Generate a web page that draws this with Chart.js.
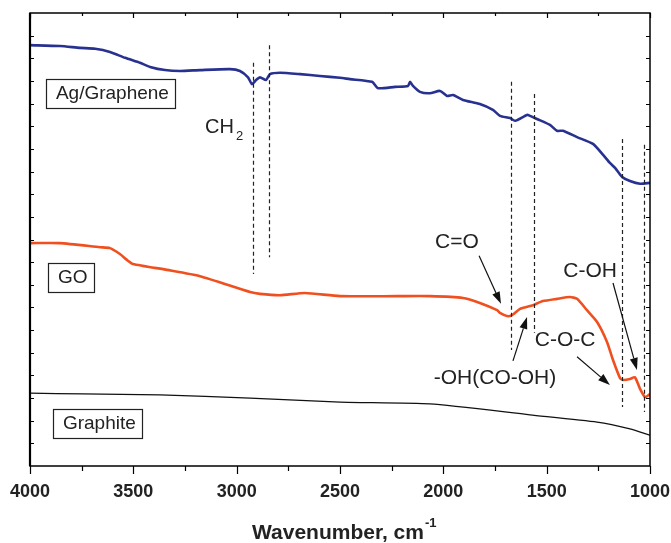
<!DOCTYPE html>
<html>
<head>
<meta charset="utf-8">
<script src="https://cdn.jsdelivr.net/npm/chart.js@4/dist/chart.umd.min.js"></script>
<style>
  html, body { margin: 0; padding: 0; background: #fff; }
  #wrap { width: 671px; height: 543px; }
</style>
</head>
<body>
<div id="wrap"><canvas id="ftirChart"></canvas></div>
<script>
// FTIR spectra, transmittance in arbitrary units (0-100)
const agWave = [4000, 3855, 3758, 3685, 3613, 3540, 3468, 3419, 3347, 3274, 3177, 3032, 2984, 2945, 2926, 2906, 2887, 2858, 2839, 2790, 2693, 2597, 2500, 2452, 2345, 2316, 2234, 2171, 2161, 2147, 2113, 2065, 2016, 1982, 1953, 1905, 1823, 1760, 1726, 1677, 1653, 1595, 1581, 1547, 1484, 1450, 1421, 1353, 1276, 1227, 1194, 1169, 1135, 1097, 1048, 1000];
const agValues = [92.9, 92.7, 92.3, 92.1, 91.4, 90.1, 89.0, 88.1, 87.4, 87.2, 87.4, 87.6, 87.2, 85.8, 84.3, 85.2, 85.8, 85.2, 86.5, 86.8, 86.5, 86.1, 85.7, 85.4, 84.8, 83.4, 83.7, 83.9, 84.8, 83.9, 82.6, 82.3, 82.8, 81.7, 81.9, 80.8, 79.9, 78.6, 77.3, 76.8, 76.2, 77.5, 77.3, 76.6, 75.3, 74.0, 74.0, 72.6, 71.1, 68.7, 66.9, 65.8, 63.8, 62.9, 62.3, 62.5];

const goWave = [4000, 3855, 3661, 3613, 3565, 3531, 3502, 3337, 3177, 2935, 2887, 2790, 2669, 2500, 2224, 2065, 1905, 1823, 1740, 1726, 1692, 1668, 1629, 1581, 1566, 1518, 1450, 1387, 1353, 1305, 1256, 1208, 1179, 1145, 1131, 1097, 1073, 1048, 1024, 1000];
const goValues = [49.2, 49.2, 48.3, 48.1, 46.8, 45.5, 44.6, 43.3, 41.9, 38.4, 38.0, 37.7, 38.2, 37.5, 37.5, 37.5, 37.1, 36.0, 34.4, 33.8, 33.1, 33.3, 34.7, 35.3, 35.5, 36.4, 36.9, 37.3, 36.9, 34.4, 31.8, 27.4, 23.4, 19.4, 19.0, 19.2, 19.6, 17.0, 15.2, 15.9];

const graphiteWave = [4000, 3744, 3371, 2935, 2500, 2065, 1581, 1256, 1097, 1000];
const graphiteValues = [16.1, 15.9, 15.7, 15.0, 14.1, 13.7, 11.3, 9.7, 8.2, 6.8];

const xTicks = [4000, 3500, 3000, 2500, 2000, 1500, 1000];

// sample labels in boxes: [text, left wavenumber, centre value]
const boxLabels = [
    ['Ag/Graphene', 3923, 82.3],
    ['GO', 3913, 41.8],
    ['Graphite', 3889, 9.6]
];
// band labels: [text, centre wavenumber, centre value]
const bandLabels = [
    ['C=O', 1934, 49.4],
    ['C-OH', 1290, 43.0],
    ['C-O-C', 1411, 27.8],
    ['-OH(CO-OH)', 1750, 19.4]
];
// dashed markers: [wavenumber, top value, bottom value]
const markers = [
    [2921, 89.0, 42.4],
    [2843, 92.9, 46.1],
    [1672, 84.8, 25.6],
    [1561, 82.1, 29.4],
    [1135, 72.2, 13.0],
    [1029, 70.9, 11.9]
];
// arrows: [from wn, from value, to wn, to value]
const arrows = [
    [1827, 46.4, 1721, 35.8],
    [1663, 23.2, 1595, 32.9],
    [1353, 24.1, 1194, 17.9],
    [1179, 40.4, 1063, 21.2]
];

function pts(xs, ys) {
    return xs.map((x, i) => ({ x: x, y: ys[i] }));
}

const decor = {
    id: 'decor',
    afterDatasetsDraw(chart) {
        const c = chart.ctx;
        const a = chart.chartArea;
        const xs = chart.scales.x;
        const ys = chart.scales.y;
        c.save();

        // dashed vertical markers
        c.strokeStyle = '#222';
        c.lineWidth = 1.2;
        c.setLineDash([4, 3]);
        markers.forEach(m => {
            const px = Math.round(xs.getPixelForValue(m[0])) + 0.5;
            c.beginPath();
            c.moveTo(px, ys.getPixelForValue(m[1]));
            c.lineTo(px, ys.getPixelForValue(m[2]));
            c.stroke();
        });
        c.setLineDash([]);

        // frame
        c.strokeStyle = '#000';
        c.lineWidth = 1.5;
        c.strokeRect(a.left, a.top, a.right - a.left, a.bottom - a.top);
        c.lineWidth = 2.2;
        c.beginPath();
        c.moveTo(a.left, a.top);
        c.lineTo(a.left, a.bottom);
        c.stroke();

        // x ticks: bottom outward, top inward
        c.lineWidth = 1.2;
        for (let w = 1000; w <= 4000; w += 250) {
            const px = Math.round(xs.getPixelForValue(w)) + 0.5;
            const major = w % 500 === 0;
            c.beginPath();
            c.moveTo(px, a.bottom);
            c.lineTo(px, a.bottom + (major ? 8 : 5));
            c.moveTo(px, a.top);
            c.lineTo(px, a.top + (major ? 5 : 3));
            c.stroke();
        }
        // y ticks, inward on both sides
        for (let v = 5; v < 100; v += 5) {
            const py = Math.round(ys.getPixelForValue(v)) + 0.5;
            c.beginPath();
            c.moveTo(a.left, py);
            c.lineTo(a.left + 4, py);
            c.moveTo(a.right, py);
            c.lineTo(a.right - 4, py);
            c.stroke();
        }

        // boxed sample names
        c.font = '19px "Liberation Sans", Arial, sans-serif';
        c.textBaseline = 'middle';
        c.textAlign = 'left';
        c.fillStyle = '#222';
        boxLabels.forEach(b => {
            const x0 = xs.getPixelForValue(b[1]);
            const yc = ys.getPixelForValue(b[2]);
            const tw = c.measureText(b[0]).width;
            c.lineWidth = 1.2;
            c.strokeStyle = '#222';
            c.strokeRect(Math.round(x0) + 0.5, Math.round(yc - 14) + 0.5, Math.round(tw + 16), 29);
            c.fillText(b[0], x0 + 10, yc + 1);
        });

        // CH2 label with subscript
        const chx = xs.getPixelForValue(3153);
        const chy = ys.getPixelForValue(74.8);
        c.font = '20px "Liberation Sans", Arial, sans-serif';
        c.fillText('CH', chx, chy);
        const chw = c.measureText('CH').width;
        c.font = '13px "Liberation Sans", Arial, sans-serif';
        c.fillText('2', chx + chw + 2, chy + 9);

        // band labels
        c.font = '21px "Liberation Sans", Arial, sans-serif';
        c.textAlign = 'center';
        bandLabels.forEach(l => {
            c.fillText(l[0], xs.getPixelForValue(l[1]), ys.getPixelForValue(l[2]));
        });

        // arrows
        c.strokeStyle = '#111';
        c.fillStyle = '#111';
        c.lineWidth = 1.2;
        arrows.forEach(r => {
            const x1 = xs.getPixelForValue(r[0]), y1 = ys.getPixelForValue(r[1]);
            const x2 = xs.getPixelForValue(r[2]), y2 = ys.getPixelForValue(r[3]);
            const ang = Math.atan2(y2 - y1, x2 - x1);
            const hl = 12, hw = 4;
            const bx = x2 - hl * Math.cos(ang), by = y2 - hl * Math.sin(ang);
            c.beginPath();
            c.moveTo(x1, y1);
            c.lineTo(bx, by);
            c.stroke();
            c.beginPath();
            c.moveTo(x2, y2);
            c.lineTo(bx + hw * Math.sin(ang), by - hw * Math.cos(ang));
            c.lineTo(bx - hw * Math.sin(ang), by + hw * Math.cos(ang));
            c.closePath();
            c.fill();
        });

        // axis title with superscript
        c.fillStyle = '#222';
        c.textAlign = 'left';
        c.textBaseline = 'alphabetic';
        c.font = 'bold 21px "Liberation Sans", Arial, sans-serif';
        const title = 'Wavenumber, cm';
        const tw = c.measureText(title).width;
        const tx = (a.left + a.right) / 2 - tw / 2 - 2;
        c.fillText(title, tx, 539);
        c.font = 'bold 13px "Liberation Sans", Arial, sans-serif';
        c.fillText('-1', tx + tw + 1, 527);
        c.restore();
    }
};

const ctx = document.getElementById('ftirChart').getContext('2d');

const ftirChart = new Chart(ctx, {
    type: 'line',
    data: {
        datasets: [{
            label: 'Ag/Graphene',
            data: pts(agWave, agValues),
            borderColor: '#28318f',
            borderWidth: 2.6,
        }, {
            label: 'GO',
            data: pts(goWave, goValues),
            borderColor: '#f0501f',
            borderWidth: 2.6,
        }, {
            label: 'Graphite',
            data: pts(graphiteWave, graphiteValues),
            borderColor: '#111',
            borderWidth: 1.3,
        }]
    },
    options: {
        responsive: true,
        maintainAspectRatio: false,
        animation: false,
        layout: {
            padding: { left: 30, right: 21, top: 13, bottom: 0 }
        },
        elements: {
            point: { radius: 0 },
            line: { tension: 0.2 }
        },
        scales: {
            x: {
                type: 'linear',
                reverse: true,
                min: 1000,
                max: 4000,
                afterBuildTicks: (axis) => {
                    axis.ticks = xTicks.map(v => ({ value: v }));
                },
                afterFit: (axis) => {
                    axis.height = 77;
                    axis.paddingLeft = 0;
                    axis.paddingRight = 0;
                },
                grid: { display: false },
                border: { display: false },
                ticks: {
                    padding: 7,
                    color: '#222',
                    maxRotation: 0,
                    callback: (v) => String(v),
                    font: { size: 18, weight: 'bold', family: '"Liberation Sans", Arial, sans-serif' }
                }
            },
            y: {
                display: false,
                min: 0,
                max: 100
            }
        },
        plugins: {
            legend: { display: false },
            tooltip: { enabled: false }
        }
    },
    plugins: [decor]
})
</script>
</body>
</html>
